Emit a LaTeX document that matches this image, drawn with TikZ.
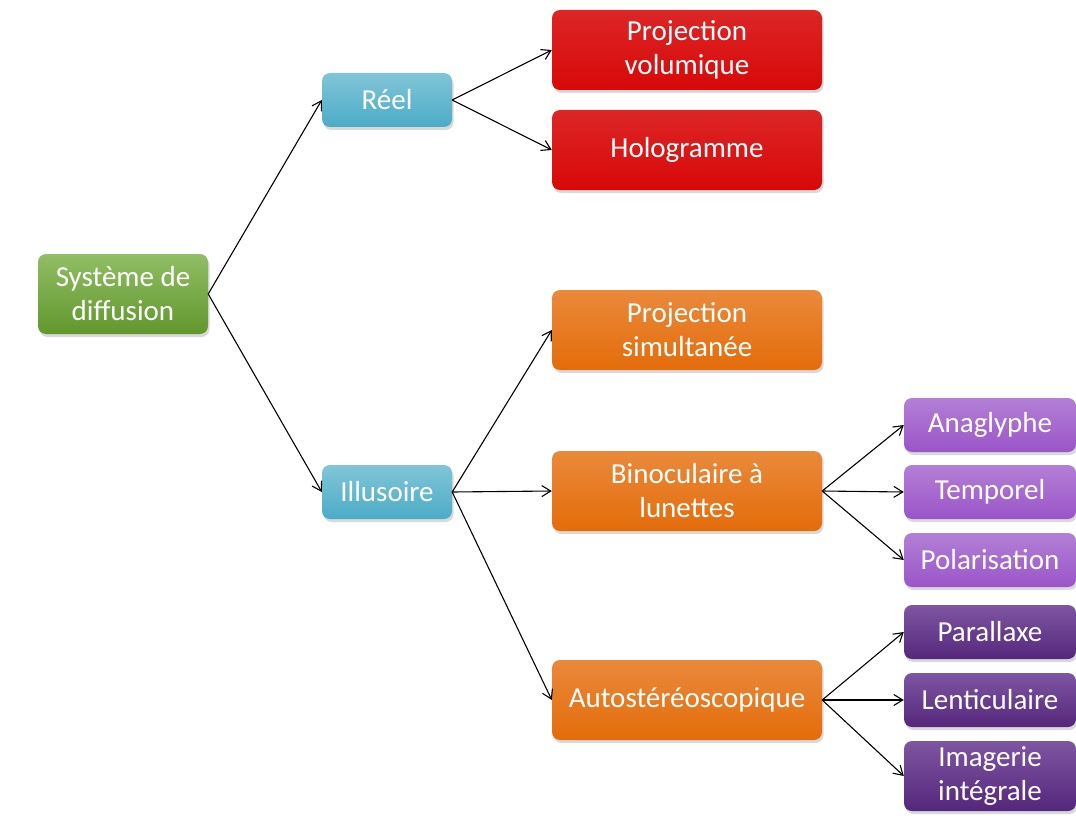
\documentclass[tikz,border=0pt]{standalone}
\usepackage{fontspec}
\setmainfont{Carlito}
\usetikzlibrary{arrows.meta,shadows}
\definecolor{boxgreen}{HTML}{6CA832}
\definecolor{boxaqua}{HTML}{4BACC6}
\definecolor{boxred}{HTML}{D80808}
\definecolor{boxorange}{HTML}{E46C0A}
\definecolor{boxlilac}{HTML}{9A55C8}
\definecolor{boxplum}{HTML}{5E2B8A}
\tikzset{
  >={Straight Barb[length=9pt,width=11pt,line width=1.1pt]},
  % boites
  bx/.style={rectangle,rounded corners=8pt,draw=none,text=white,align=center,
             font=\fontsize{29}{34}\selectfont,inner sep=2pt,
             drop shadow={shadow xshift=1.5pt,shadow yshift=-3pt,opacity=0.3}},
  lvl0/.style={bx,top color=boxgreen!75!white,bottom color=boxgreen!90!black,
               minimum width=170pt,minimum height=80pt},
  lvl1/.style={bx,top color=boxaqua!70!white,bottom color=boxaqua,
               minimum width=130pt,minimum height=54pt},
  lvlr/.style={bx,top color=boxred!88!white,bottom color=boxred,
               minimum width=270pt,minimum height=80pt},
  lvlo/.style={bx,top color=boxorange!80!white,bottom color=boxorange,
               minimum width=270pt,minimum height=80pt},
  lvlp/.style={bx,top color=boxlilac!75!white,bottom color=boxlilac,
               minimum width=172pt,minimum height=54pt},
  lvld/.style={bx,top color=boxplum!80!white,bottom color=boxplum!90!black,
               minimum width=172pt,minimum height=54pt},
  arr/.style={->,draw=black,line width=1.1pt},
}
\begin{document}
\begin{tikzpicture}[x=1pt,y=-1pt]
\useasboundingbox (0,0) rectangle (1076,832);
  \node[lvl0] (sys) at (123,294) {Système de\\diffusion};
  \node[lvl1] (reel) at (387,100) {Réel};
  \node[lvl1] (illu) at (387,492) {Illusoire};
  \node[lvlr] (pvol) at (687,50) {Projection\\volumique};
  \node[lvlr] (holo) at (687,150) {Hologramme};
  \node[lvlo] (psim) at (687,330) {Projection\\simultanée};
  \node[lvlo] (bino) at (687,491) {Binoculaire à\\lunettes};
  \node[lvlo] (auto) at (687,700) {Autostéréoscopique};
  \node[lvlp] (anag) at (990,425) {Anaglyphe};
  \node[lvlp] (temp) at (990,492) {Temporel};
  \node[lvlp] (pola) at (990,560) {Polarisation};
  \node[lvld] (para) at (990,632) {Parallaxe};
  \node[lvld] (lent) at (990,700) {Lenticulaire};
  \node[lvld,minimum height=70pt] (imag) at (990,776) {Imagerie\\intégrale};
  \draw[arr] (sys.east) -- (reel.west);
  \draw[arr] (sys.east) -- (illu.west);
  \draw[arr] (reel.east) -- (pvol.west);
  \draw[arr] (reel.east) -- (holo.west);
  \draw[arr] (illu.east) -- (psim.west);
  \draw[arr] (illu.east) -- (bino.west);
  \draw[arr] (illu.east) -- (auto.west);
  \draw[arr] (bino.east) -- (anag.west);
  \draw[arr] (bino.east) -- (temp.west);
  \draw[arr] (bino.east) -- (pola.west);
  \draw[arr] (auto.east) -- (para.west);
  \draw[arr] (auto.east) -- (lent.west);
  \draw[arr] (auto.east) -- (imag.west);
\end{tikzpicture}
\end{document}
